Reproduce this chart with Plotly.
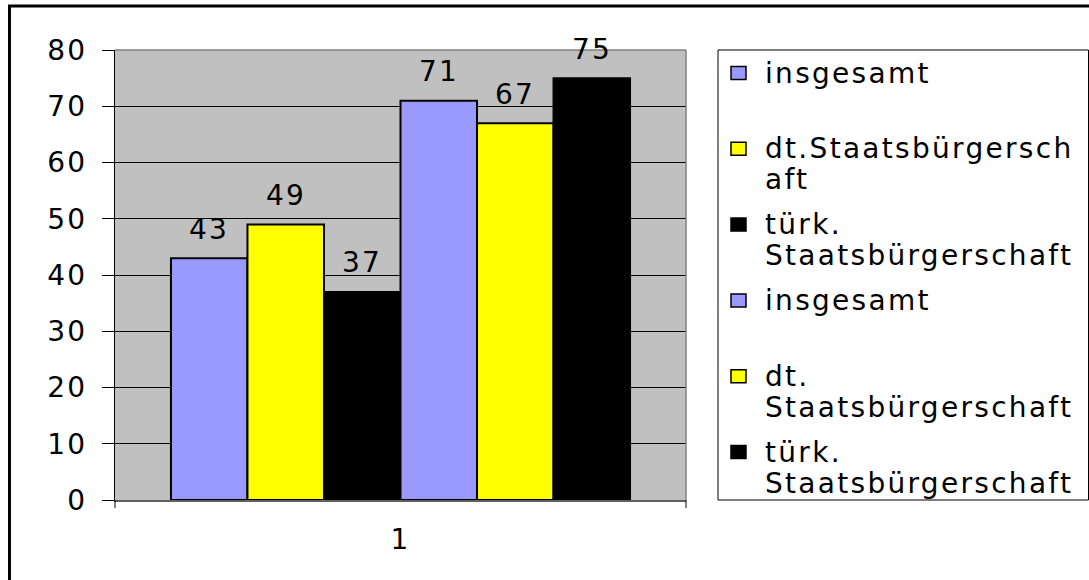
import plotly.graph_objects as go

# ---- data -------------------------------------------------------------
category_labels = ["1"]
series_names = [
    "insgesamt",
    "dt.Staatsbürgerschaft",
    "türk. Staatsbürgerschaft",
    "insgesamt",
    "dt. Staatsbürgerschaft",
    "türk. Staatsbürgerschaft",
]
# legend text as it is wrapped inside the legend box
legend_lines = [
    ["insgesamt"],
    ["dt.Staatsbürgersch", "aft"],
    ["türk.", "Staatsbürgerschaft"],
    ["insgesamt"],
    ["dt.", "Staatsbürgerschaft"],
    ["türk.", "Staatsbürgerschaft"],
]
values = [43, 49, 37, 71, 67, 75]
bar_colors = ["#9999FF", "#FFFF00", "#000000", "#9999FF", "#FFFF00", "#000000"]
y_tick_values = [0, 10, 20, 30, 40, 50, 60, 70, 80]
y_tick_labels = ["0", "10", "20", "30", "40", "50", "60", "70", "80"]

# ---- geometry / style -------------------------------------------------
W, H = 1089, 580
ML, MR, MT, MB = 115, 403, 50, 80
PW, PH = W - ML - MR, H - MT - MB
FONT = "DejaVu Sans"
FS = 28
LS = 2.3  # letter spacing, px
BARGAP = 0.196


def spaced(t):
    return f'<span style="letter-spacing:{LS}px">{t}</span>'


def px_x(px):
    return (px - ML) / PW


def px_y(py):
    return (H - MB - py) / PH


fig = go.Figure()
for name, val, col in zip(series_names, values, bar_colors):
    fig.add_trace(go.Bar(
        x=[0], y=[val], name=name,
        marker=dict(color=col, line=dict(color="black", width=2)),
        showlegend=False, hoverinfo="name+y",
    ))

n = len(values)
group_w = 1 - BARGAP
bar_w = group_w / n
annotations = []
for i, val in enumerate(values):
    xc = -group_w / 2 + (i + 0.5) * bar_w
    annotations.append(dict(
        x=xc, y=val, xref="x", yref="y", text=spaced(str(val)),
        showarrow=False, yanchor="middle", xanchor="center", yshift=29,
        font=dict(family=FONT, size=FS, color="black"),
    ))

shapes = []
# outer chart frame
shapes.append(dict(type="rect", xref="paper", yref="paper",
                   x0=px_x(9.5), x1=px_x(1100), y0=px_y(600), y1=px_y(6),
                   line=dict(color="black", width=3), fillcolor="rgba(0,0,0,0)",
                   layer="above"))
# plot area border (right and top)
shapes.append(dict(type="line", xref="paper", yref="paper", x0=1, x1=1, y0=0, y1=1,
                   line=dict(color="#808080", width=1.5)))
shapes.append(dict(type="line", xref="paper", yref="paper", x0=0, x1=1, y0=1, y1=1,
                   line=dict(color="#808080", width=1.5)))
# category tick marks at the category boundaries
for xp in (0, 1):
    shapes.append(dict(type="line", xref="paper", yref="paper", x0=xp, x1=xp,
                       y0=0, y1=-8 / PH, line=dict(color="black", width=1)))

# legend box
shapes.append(dict(type="rect", xref="paper", yref="paper",
                   x0=px_x(718), x1=px_x(1088.5), y0=px_y(500), y1=px_y(50),
                   line=dict(color="black", width=1), fillcolor="white"))
for i, (lines, col) in enumerate(zip(legend_lines, bar_colors)):
    yc = 73 + i * 75.8
    shapes.append(dict(type="rect", xref="paper", yref="paper",
                       x0=px_x(731), x1=px_x(746), y0=px_y(yc + 6.5), y1=px_y(yc - 6.5),
                       line=dict(color="black", width=1.5), fillcolor=col))
    for j, line in enumerate(lines):
        annotations.append(dict(
            x=px_x(763), y=px_y(yc + j * 31), xref="paper", yref="paper",
            text=spaced(line), showarrow=False, xanchor="left", yanchor="middle",
            font=dict(family=FONT, size=FS, color="black"),
        ))

fig.update_layout(
    width=W, height=H, autosize=False,
    margin=dict(l=ML, r=MR, t=MT, b=MB),
    paper_bgcolor="white", plot_bgcolor="#C0C0C0",
    barmode="group", bargap=BARGAP, bargroupgap=0,
    font=dict(family=FONT, size=FS, color="black"),
    annotations=annotations, shapes=shapes,
    xaxis=dict(range=[-0.5, 0.5], tickmode="array", tickvals=[0],
               ticktext=[spaced(t) for t in category_labels], ticks="",
               ticklabelstandoff=14, showgrid=False, zeroline=False,
               showline=True, linecolor="#606060", linewidth=1.5,
               tickfont=dict(family=FONT, size=FS, color="black")),
    yaxis=dict(range=[0, 80], tickmode="array", tickvals=y_tick_values,
               ticktext=[spaced(t) for t in y_tick_labels],
               ticks="outside", ticklen=12, tickcolor="black", tickwidth=1,
               ticklabelstandoff=9,
               showgrid=True, gridcolor="black", gridwidth=1, zeroline=False,
               showline=True, linecolor="black", linewidth=1,
               tickfont=dict(family=FONT, size=FS, color="black")),
)

fig.write_html("out.html")
